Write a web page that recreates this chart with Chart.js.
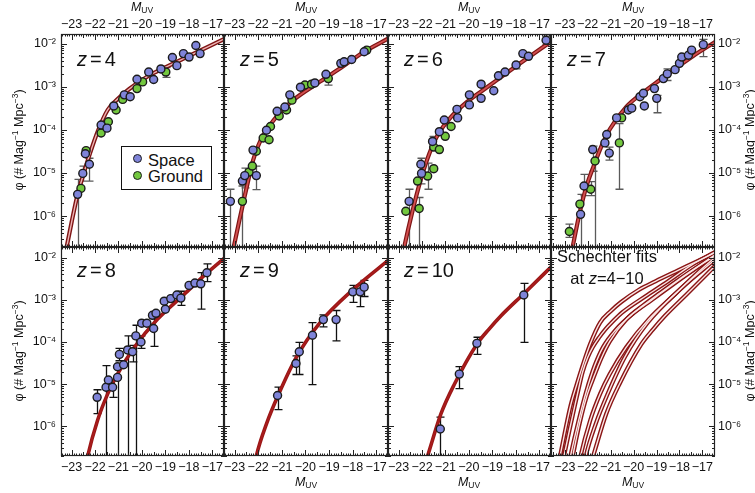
<!DOCTYPE html>
<html>
<head>
<meta charset="utf-8">
<script src="https://cdn.jsdelivr.net/npm/chart.js@4.4.1/dist/chart.umd.min.js"></script>
<style>
body { margin: 0; background: #fff; }
#fig { position: relative; width: 755px; height: 493px; overflow: hidden; background: #fff;
       font-family: "Liberation Sans", Arial, Helvetica, sans-serif; color: #111; }
#fig canvas { position: absolute; left: 0; top: 0; }
.ov { position: absolute; white-space: nowrap; z-index: 5; }
.muv { font-size: 12.5px; line-height: 15px; transform: translateX(-50%); }
.muv sub { font-size: 8.5px; vertical-align: -2px; }
.ytl { font-size: 12.5px; line-height: 14px; transform: translate(-50%, -50%) rotate(-90deg); }
.ytl sup { font-size: 8.5px; vertical-align: 5px; }
.zl { font-size: 20px; line-height: 20px; }
.zl span { margin: 0 3px; }
.sch { font-size: 16.5px; line-height: 21.5px; text-align: center; width: 112px; }
.leg { border: 1px solid #111; background: #fff; width: 89px; height: 42px; font-size: 16.5px; }
.leg div { position: absolute; left: 26px; line-height: 16px; }
.dot { position: absolute; width: 7px; height: 7px; border: 1.4px solid #1b1b1b; border-radius: 50%; }
</style>
</head>
<body>
<div id="fig">
  <canvas id="c0" width="755" height="493"></canvas>
  <canvas id="c1" width="755" height="493"></canvas>
  <canvas id="c2" width="755" height="493"></canvas>
  <canvas id="c3" width="755" height="493"></canvas>
  <canvas id="c4" width="755" height="493"></canvas>
  <canvas id="c5" width="755" height="493"></canvas>
  <canvas id="c6" width="755" height="493"></canvas>
  <canvas id="c7" width="755" height="493"></canvas>

  <div class="ov muv" style="left:142px;top:0px"><i>M</i><sub>UV</sub></div>
  <div class="ov muv" style="left:306px;top:0px"><i>M</i><sub>UV</sub></div>
  <div class="ov muv" style="left:469px;top:0px"><i>M</i><sub>UV</sub></div>
  <div class="ov muv" style="left:633px;top:0px"><i>M</i><sub>UV</sub></div>
  <div class="ov muv" style="left:306px;top:475px"><i>M</i><sub>UV</sub></div>
  <div class="ov muv" style="left:469px;top:475px"><i>M</i><sub>UV</sub></div>
  <div class="ov muv" style="left:633px;top:475px"><i>M</i><sub>UV</sub></div>

  <div class="ov ytl" style="left:17px;top:140px">φ (# Mag<sup>−1</sup> Mpc<sup>−3</sup>)</div>
  <div class="ov ytl" style="left:17px;top:351px">φ (# Mag<sup>−1</sup> Mpc<sup>−3</sup>)</div>
  <div class="ov ytl" style="left:748px;top:140px">φ (# Mag<sup>−1</sup> Mpc<sup>−3</sup>)</div>
  <div class="ov ytl" style="left:748px;top:351px">φ (# Mag<sup>−1</sup> Mpc<sup>−3</sup>)</div>

  <div class="ov zl" style="left:77px;top:49px"><i>z</i><span>=</span>4</div>
  <div class="ov zl" style="left:240px;top:49px"><i>z</i><span>=</span>5</div>
  <div class="ov zl" style="left:404px;top:49px"><i>z</i><span>=</span>6</div>
  <div class="ov zl" style="left:567px;top:49px"><i>z</i><span>=</span>7</div>
  <div class="ov zl" style="left:77px;top:260px"><i>z</i><span>=</span>8</div>
  <div class="ov zl" style="left:240px;top:260px"><i>z</i><span>=</span>9</div>
  <div class="ov zl" style="left:404px;top:260px"><i>z</i><span>=</span>10</div>
  <div class="ov sch" style="left:551px;top:246px">Schechter fits<br>at <i>z</i>=4−10</div>

  <div class="ov leg" style="left:121px;top:146px">
    <span class="dot" style="left:11px;top:7px;background:#7f84d9"></span><div style="top:5px">Space</div>
    <span class="dot" style="left:11px;top:24px;background:#73c83f"></span><div style="top:21px">Ground</div>
  </div>
</div>

<script>
// UV luminosity functions z=4-10

var xTicks = [-23, -22, -21, -20, -19, -18, -17];
var yTicks = [1e-6, 1e-5, 1e-4, 1e-3, 1e-2];

// Schechter fit curves (M_UV, phi)
var z4FitM = [-23.3, -23.0, -22.74, -22.48, -22.2, -21.89, -21.46, -21.0, -20.54, -19.76, -19.05, -18.06, -17.21, -16.45];
var z4FitPhi = [1.07e-7, 7.1e-7, 3.2e-6, 9.8e-6, 3.0e-5, 9.1e-5, 2.9e-4, 5.4e-4, 8.9e-4, 1.74e-3, 2.75e-3, 5.0e-3, 8.3e-3, 1.32e-2];
var z5FitM = [-23.1, -23.04, -22.8, -22.57, -22.4, -22.22, -22.0, -21.79, -21.5, -21.23, -20.9, -20.52, -19.38, -18.4, -17.51, -16.45];
var z5FitPhi = [1.32e-7, 1.9e-7, 7.9e-7, 2.95e-6, 7.6e-6, 1.95e-5, 4.3e-5, 7.4e-5, 1.29e-4, 2.0e-4, 3.1e-4, 4.9e-4, 1.32e-3, 3.0e-3, 6.5e-3, 1.35e-2];
var z6FitM = [-22.9, -22.76, -22.40, -22.05, -21.69, -21.33, -20.76, -20.05, -19.20, -17.92, -16.45];
var z6FitPhi = [7.9e-8, 1.9e-7, 1.35e-6, 7.1e-6, 2.8e-5, 7.6e-5, 2.0e-4, 4.6e-4, 1.0e-3, 3.2e-3, 1.17e-2];
var z7FitM = [-22.8, -22.65, -22.34, -22.05, -21.75, -21.4, -21.03, -20.30, -19.58, -18.85, -18.12, -17.40, -16.45];
var z7FitPhi = [7.9e-8, 2.0e-7, 1.26e-6, 5.0e-6, 1.4e-5, 4.2e-5, 1.05e-4, 3.5e-4, 7.4e-4, 1.45e-3, 2.8e-3, 5.2e-3, 1.1e-2];
var z8FitM = [-22.4, -22.31, -21.89, -21.46, -21.04, -20.33, -19.33, -18.2, -17.21, -16.4];
var z8FitPhi = [1.1e-7, 2.0e-7, 1.4e-6, 5.9e-6, 1.74e-5, 7.4e-5, 3.5e-4, 1.35e-3, 4.4e-3, 1.07e-2];
var z9FitM = [-22.17, -22.08, -21.65, -21.16, -20.38, -19.38, -17.96, -16.4];
var z9FitPhi = [1.1e-7, 2.0e-7, 1.15e-6, 5.4e-6, 4.4e-5, 2.9e-4, 1.8e-3, 9.5e-3];
var z10FitM = [-21.85, -21.76, -21.19, -20.62, -19.66, -19.15, -18.63, -17.66, -16.4];
var z10FitPhi = [1.4e-7, 2.0e-7, 2.0e-6, 1.0e-5, 8.9e-5, 2.0e-4, 4.2e-4, 1.4e-3, 6.8e-3];

// z=4
var z4SpaceM = [-22.74, -22.52, -22.24, -22.41, -21.74, -21.49, -21.20, -20.75, -20.50, -20.21, -19.71, -19.50, -19.19, -18.70, -18.51, -18.23, -17.99, -17.70, -17.52];
var z4SpacePhi = [3.2e-6, 9.8e-6, 1.6e-5, 2.8e-5, 1.3e-4, 1.1e-4, 3.6e-4, 6.5e-4, 5.9e-4, 1.5e-3, 2.2e-3, 1.48e-3, 2.6e-3, 4.8e-3, 3.1e-3, 5.9e-3, 4.9e-3, 9.1e-3, 5.9e-3];
var z4GroundM = [-22.60, -22.38, -21.74, -21.43, -21.10, -20.82, -20.21, -19.97, -18.98];
var z4GroundPhi = [4.4e-6, 3.3e-5, 8.5e-5, 1.55e-4, 2.9e-4, 5.1e-4, 9.1e-4, 1.3e-3, 2.2e-3];
var z4ErrM = [-22.74, -22.52, -22.24, -18.98];
var z4ErrLo = [1e-9, 6.5e-6, 6.5e-6, 1.66e-3];
var z4ErrHi = [7.1e-6, 1.45e-5, 2.2e-5, 2.8e-3];

// z=5
var z5SpaceM = [-23.18, -22.67, -22.57, -22.08, -22.22, -21.65, -21.20, -20.87, -20.66, -20.21, -19.60, -19.13, -18.50, -18.36, -18.04, -17.51];
var z5SpacePhi = [2.2e-6, 6.5e-6, 8.7e-6, 8.7e-6, 3.4e-5, 9.8e-5, 2.7e-4, 3.4e-4, 6.5e-4, 9.8e-4, 1.23e-3, 1.95e-3, 3.5e-3, 3.8e-3, 4.3e-3, 6.5e-3];
var z5GroundM = [-22.67, -22.39, -22.25, -22.08, -21.79, -21.54, -21.48, -21.11, -20.80, -20.57, -20.02, -19.74, -19.03, -17.40];
var z5GroundPhi = [2.2e-6, 1.05e-5, 1.45e-5, 3.2e-5, 6.5e-5, 5.9e-5, 1.2e-4, 2.1e-4, 2.9e-4, 4.9e-4, 1.1e-3, 1.15e-3, 1.55e-3, 7.1e-3];
var z5ErrM = [-23.18, -22.67, -22.57, -22.08, -19.03];
var z5ErrLo = [1e-9, 1e-9, 4.5e-6, 4.1e-6, 1.1e-3];
var z5ErrHi = [4.2e-6, 5.0e-6, 1.3e-5, 1.45e-5, 1.9e-3];

// z=6
var z6SpaceM = [-22.55, -22.05, -22.02, -21.55, -21.26, -21.05, -20.51, -20.48, -19.98, -19.98, -19.48, -19.48, -18.94, -18.74, -18.46, -17.99, -17.70, -17.46, -16.71];
var z6SpacePhi = [2.2e-6, 1.6e-5, 9.8e-6, 5.4e-5, 9.1e-5, 1.7e-4, 3.0e-4, 1.9e-4, 6.5e-4, 3.8e-4, 1.15e-3, 5.4e-4, 8.1e-4, 1.8e-3, 2.2e-3, 3.2e-3, 5.9e-3, 5.1e-3, 1.2e-2];
var z6GroundM = [-22.69, -22.12, -22.19, -21.76, -21.50, -21.50, -21.26, -21.01, -20.76];
var z6GroundPhi = [1.3e-6, 1.5e-6, 6.5e-6, 8.5e-6, 1.26e-5, 4.0e-5, 3.5e-5, 7.1e-5, 1.2e-4];
var z6ErrM = [-22.55, -22.12, -22.05, -21.76, -21.55, -17.99, -16.71];
var z6ErrLo = [1e-9, 1e-9, 5.6e-6, 4.2e-6, 4.0e-5, 2.6e-3, 9.5e-3];
var z6ErrHi = [4.2e-6, 2.7e-6, 2.2e-5, 1.7e-5, 7.1e-5, 3.7e-3, 1.5e-2];

// z=7
var z7SpaceM = [-22.31, -22.16, -21.78, -21.25, -21.17, -21.06, -20.74, -20.23, -20.08, -19.72, -19.57, -19.53, -19.09, -18.99, -18.70, -18.53, -18.19, -18.00, -17.90, -17.61, -17.47, -16.96];
var z7SpacePhi = [1.1e-6, 5.0e-6, 3.5e-5, 5.0e-5, 7.8e-5, 2.9e-5, 1.9e-4, 2.9e-4, 3.2e-4, 5.9e-4, 7.1e-4, 3.6e-4, 9.1e-4, 5.4e-4, 1.55e-3, 2.0e-3, 2.5e-3, 3.5e-3, 4.9e-3, 5.4e-3, 7.1e-3, 9.5e-3];
var z7GroundM = [-22.80, -22.34, -21.87, -21.68, -20.62, -20.52];
var z7GroundPhi = [4.4e-7, 1.9e-6, 4.2e-6, 1.9e-5, 5.0e-5, 1.9e-4];
var z7ErrM = [-22.80, -22.31, -22.16, -21.87, -21.78, -21.68, -21.06, -20.62, -18.99, -18.53, -16.96];
var z7ErrLo = [3.2e-7, 1e-9, 3.0e-6, 3.0e-6, 1.1e-5, 1e-9, 2.0e-5, 4.2e-6, 2.5e-4, 1.4e-3, 5.0e-3];
var z7ErrHi = [6.5e-7, 3.2e-6, 9.3e-6, 6.3e-6, 4.2e-5, 1.9e-5, 4.0e-5, 1.4e-4, 6.3e-4, 2.6e-3, 1.26e-2];

// z=8
var z8SpaceM = [-21.91, -21.53, -21.43, -21.25, -21.04, -21.04, -20.96, -20.78, -20.61, -20.40, -20.26, -20.04, -20.01, -19.79, -19.55, -19.50, -19.40, -19.05, -19.00, -18.77, -18.51, -18.34, -17.99, -17.74, -17.49, -17.23];
var z8SpacePhi = [4.9e-6, 8.5e-6, 1.26e-5, 8.5e-6, 1.45e-5, 2.6e-5, 5.1e-5, 2.9e-5, 6.5e-5, 5.9e-5, 1.4e-4, 1.0e-4, 2.8e-4, 2.8e-4, 4.3e-4, 2.1e-4, 4.8e-4, 9.3e-4, 6.0e-4, 1.07e-3, 1.3e-3, 1.1e-3, 2.2e-3, 2.5e-3, 2.4e-3, 4.4e-3];
var z8ErrM = [-21.91, -21.53, -21.25, -21.04, -20.96, -20.61, -20.40, -20.26, -20.04, -19.50, -18.34, -17.49, -17.23];
var z8ErrLo = [2.0e-6, 1e-9, 4.9e-6, 1e-9, 3.6e-5, 1e-9, 3.4e-5, 1e-9, 7.1e-5, 7.9e-5, 7.4e-4, 6.0e-4, 2.7e-3];
var z8ErrHi = [7.4e-6, 2.75e-5, 1.23e-5, 2.5e-5, 7.1e-5, 1.4e-4, 8.3e-5, 2.5e-4, 1.4e-4, 5.0e-4, 1.6e-3, 4.4e-3, 7.1e-3];

// z=9
var z9SpaceM = [-21.18, -20.40, -20.26, -19.70, -19.24, -18.70, -17.99, -17.68, -17.51];
var z9SpacePhi = [5.4e-6, 3.1e-5, 5.9e-5, 1.45e-4, 3.4e-4, 3.4e-4, 1.55e-3, 1.55e-3, 2.0e-3];
var z9ErrLo = [2.5e-6, 1.7e-5, 1.7e-5, 9.8e-6, 2.3e-4, 1.07e-4, 8.7e-4, 6.9e-4, 1.2e-3];
var z9ErrHi = [8.5e-6, 4.7e-5, 9.8e-5, 2.9e-4, 4.4e-4, 5.6e-4, 2.2e-3, 2.3e-3, 2.9e-3];

// z=10
var z10SpaceM = [-21.22, -20.41, -19.66, -17.66];
var z10SpacePhi = [8.7e-7, 1.74e-5, 9.3e-5, 1.3e-3];
var z10ErrLo = [1e-9, 7.9e-6, 5.1e-5, 9.8e-5];
var z10ErrHi = [1.66e-6, 2.6e-5, 1.3e-4, 2.45e-3];

var W = 755, H = 493;
var colEdges = [61, 224, 388, 551, 715];
var rowEdges = [34, 247, 456];
var FONT = '"Liberation Sans", Arial, Helvetica, sans-serif';
var BLUE = '#7f84d9', GREEN = '#73c83f';

var supMap = {'-': '\u207B', '0': '\u2070', '1': '\u00B9', '2': '\u00B2', '3': '\u00B3', '4': '\u2074', '5': '\u2075', '6': '\u2076', '7': '\u2077', '8': '\u2078', '9': '\u2079'};
function powLabel(v) {
    var e = String(Math.round(Math.log10(v)));
    return '10' + e.split('').map(function (c) { return supMap[c]; }).join('');
}

function xy(M, phi) {
    return M.map(function (m, i) { return {x: m, y: phi[i]}; });
}

function curve(M, phi, style) {
    var sets = [{
        type: 'line', data: xy(M, phi), borderColor: style.outer, borderWidth: style.wo,
        pointRadius: 0, cubicInterpolationMode: 'monotone', fill: false, clip: 0, order: 3
    }];
    if (style.inner) {
        sets.push({
            type: 'line', data: xy(M, phi), borderColor: style.inner, borderWidth: style.wi,
            pointRadius: 0, cubicInterpolationMode: 'monotone', fill: false, clip: 0, order: 2
        });
    }
    return sets;
}

function dots(M, phi, color) {
    return {
        type: 'scatter', data: xy(M, phi), backgroundColor: color, borderColor: '#1b1b1b',
        borderWidth: 1.4, pointRadius: 4, order: 1
    };
}

// error bars + framed box with inward ticks
var framePlugin = {
    id: 'frame',
    beforeDatasetsDraw: function (chart) {
        var eb = chart.options.plugins.frame.err;
        if (!eb) return;
        var ctx = chart.ctx, a = chart.chartArea, xs = chart.scales.x, ys = chart.scales.y;
        ctx.save();
        ctx.beginPath();
        ctx.rect(a.left, a.top, a.right - a.left, a.bottom - a.top);
        ctx.clip();
        ctx.strokeStyle = chart.options.plugins.frame.errColor;
        ctx.lineWidth = 1.3;
        ctx.beginPath();
        for (var i = 0; i < eb[0].length; i++) {
            var px = Math.round(xs.getPixelForValue(eb[0][i])) + 0.5;
            var y1 = ys.getPixelForValue(eb[2][i]);
            var y2 = ys.getPixelForValue(eb[1][i]);
            ctx.moveTo(px, y1); ctx.lineTo(px, y2);
            ctx.moveTo(px - 4, y1); ctx.lineTo(px + 4, y1);
            ctx.moveTo(px - 4, y2); ctx.lineTo(px + 4, y2);
        }
        ctx.stroke();
        ctx.restore();
    },
    afterDraw: function (chart) {
        var ctx = chart.ctx, a = chart.chartArea, xs = chart.scales.x, ys = chart.scales.y;
        ctx.save();
        ctx.strokeStyle = '#222';
        ctx.lineWidth = 1;
        ctx.beginPath();
        for (var m = Math.ceil(xs.min * 10); m <= xs.max * 10; m++) {
            var px = Math.round(xs.getPixelForValue(m / 10)) + 0.5;
            var len = (m % 10 === 0) ? 6 : ((m % 5 === 0) ? 4 : 2.5);
            ctx.moveTo(px, a.top); ctx.lineTo(px, a.top + len);
            ctx.moveTo(px, a.bottom); ctx.lineTo(px, a.bottom - len);
        }
        for (var e = -7; e <= -2; e++) {
            for (var k = 1; k <= 9; k++) {
                var v = k * Math.pow(10, e);
                if (v < ys.min || v > ys.max) continue;
                var py = Math.round(ys.getPixelForValue(v)) + 0.5;
                var l2 = k === 1 ? 6 : 3;
                ctx.moveTo(a.left, py); ctx.lineTo(a.left + l2, py);
                ctx.moveTo(a.right, py); ctx.lineTo(a.right - l2, py);
            }
        }
        ctx.stroke();
        ctx.lineWidth = 1.2;
        ctx.strokeRect(Math.round(a.left) + 0.5, Math.round(a.top) + 0.5,
            Math.round(a.right - a.left) - 1, Math.round(a.bottom - a.top) - 1);
        ctx.restore();
    }
};

var sTop1 = {outer: '#7e1414', wo: 4.2, inner: '#efb4b4', wi: 1.4};
var sTop2 = {outer: '#7e1414', wo: 4.2, inner: '#d25050', wi: 1.8};
var sBot = {outer: '#9a1616', wo: 3.6, inner: '#a81c1c', wi: 1.6};
var sAll = {outer: '#8a1515', wo: 4.2, inner: '#fbe6e6', wi: 1.4};

var allFits = [[z4FitM, z4FitPhi], [z5FitM, z5FitPhi], [z6FitM, z6FitPhi], [z7FitM, z7FitPhi],
               [z8FitM, z8FitPhi], [z9FitM, z9FitPhi], [z10FitM, z10FitPhi]];

var panels = [
    {row: 0, col: 0, fits: [[z4FitM, z4FitPhi]], style: sTop1, space: [z4SpaceM, z4SpacePhi], ground: [z4GroundM, z4GroundPhi], err: [z4ErrM, z4ErrLo, z4ErrHi]},
    {row: 0, col: 1, fits: [[z5FitM, z5FitPhi]], style: sTop2, space: [z5SpaceM, z5SpacePhi], ground: [z5GroundM, z5GroundPhi], err: [z5ErrM, z5ErrLo, z5ErrHi]},
    {row: 0, col: 2, fits: [[z6FitM, z6FitPhi]], style: sTop2, space: [z6SpaceM, z6SpacePhi], ground: [z6GroundM, z6GroundPhi], err: [z6ErrM, z6ErrLo, z6ErrHi]},
    {row: 0, col: 3, fits: [[z7FitM, z7FitPhi]], style: sTop2, space: [z7SpaceM, z7SpacePhi], ground: [z7GroundM, z7GroundPhi], err: [z7ErrM, z7ErrLo, z7ErrHi]},
    {row: 1, col: 0, fits: [[z8FitM, z8FitPhi]], style: sBot, space: [z8SpaceM, z8SpacePhi], err: [z8ErrM, z8ErrLo, z8ErrHi]},
    {row: 1, col: 1, fits: [[z9FitM, z9FitPhi]], style: sBot, space: [z9SpaceM, z9SpacePhi], err: [z9SpaceM, z9ErrLo, z9ErrHi]},
    {row: 1, col: 2, fits: [[z10FitM, z10FitPhi]], style: sBot, space: [z10SpaceM, z10SpacePhi], err: [z10SpaceM, z10ErrLo, z10ErrHi]},
    {row: 1, col: 3, fits: allFits, style: sAll}
];

function makeChart(p, idx) {
    var left = colEdges[p.col], right = colEdges[p.col + 1];
    var top = rowEdges[p.row], bottom = rowEdges[p.row + 1];
    var yAxisOn = p.col === 0 || p.col === 3;
    var datasets = [];
    if (p.space) datasets.push(dots(p.space[0], p.space[1], BLUE));
    if (p.ground) datasets.push(dots(p.ground[0], p.ground[1], GREEN));
    p.fits.forEach(function (f) { datasets = datasets.concat(curve(f[0], f[1], p.style)); });

    var yScale = {
        type: 'logarithmic',
        min: p.row === 0 ? 1.92e-7 : 1.99e-7,
        max: p.row === 0 ? 1.68e-2 : 1.79e-2,
        position: p.col === 3 ? 'right' : 'left',
        display: yAxisOn,
        afterBuildTicks: function (s) { s.ticks = yTicks.map(function (v) { return {value: v}; }); },
        grid: {display: false, drawTicks: false},
        border: {display: false},
        ticks: {
            padding: p.col === 3 ? 3 : 5, color: '#111', font: {family: FONT, size: 12.5},
            callback: function (v) { return powLabel(v); }
        }
    };
    if (yAxisOn) {
        yScale.afterFit = function (s) {
            s.width = p.col === 0 ? left : W - right;
            s.paddingTop = 0; s.paddingBottom = 0;
        };
    }

    return new Chart(document.getElementById('c' + idx), {
        type: 'scatter',
        data: {datasets: datasets},
        options: {
            responsive: false,
            devicePixelRatio: 1,
            animation: false,
            events: [],
            layout: {
                padding: {
                    left: p.col === 0 ? 0 : left,
                    right: p.col === 3 ? 0 : W - right,
                    top: p.row === 0 ? 0 : top,
                    bottom: p.row === 1 ? 0 : H - bottom
                }
            },
            scales: {
                x: {
                    type: 'linear',
                    min: p.col === 3 ? -23.6 : -23.45,
                    max: p.col === 3 ? -16.45 : -16.5,
                    position: p.row === 0 ? 'top' : 'bottom',
                    afterBuildTicks: function (s) { s.ticks = xTicks.map(function (v) { return {value: v}; }); },
                    afterFit: function (s) {
                        s.height = p.row === 0 ? top : H - bottom;
                        s.paddingLeft = 0; s.paddingRight = 0;
                    },
                    grid: {display: false, drawTicks: false},
                    border: {display: false},
                    ticks: {
                        autoSkip: false, maxRotation: 0, includeBounds: false,
                        padding: p.row === 0 ? 2 : 4, color: '#111', font: {family: FONT, size: 12.5},
                        callback: function (v) { return '\u2212' + Math.abs(v); }
                    }
                },
                y: yScale
            },
            plugins: {
                legend: {display: false},
                tooltip: {enabled: false},
                frame: {err: p.err || null, errColor: p.row === 0 ? '#5a5a5a' : '#111'}
            }
        },
        plugins: [framePlugin]
    });
}

panels.forEach(makeChart);
</script>
</body>
</html>
